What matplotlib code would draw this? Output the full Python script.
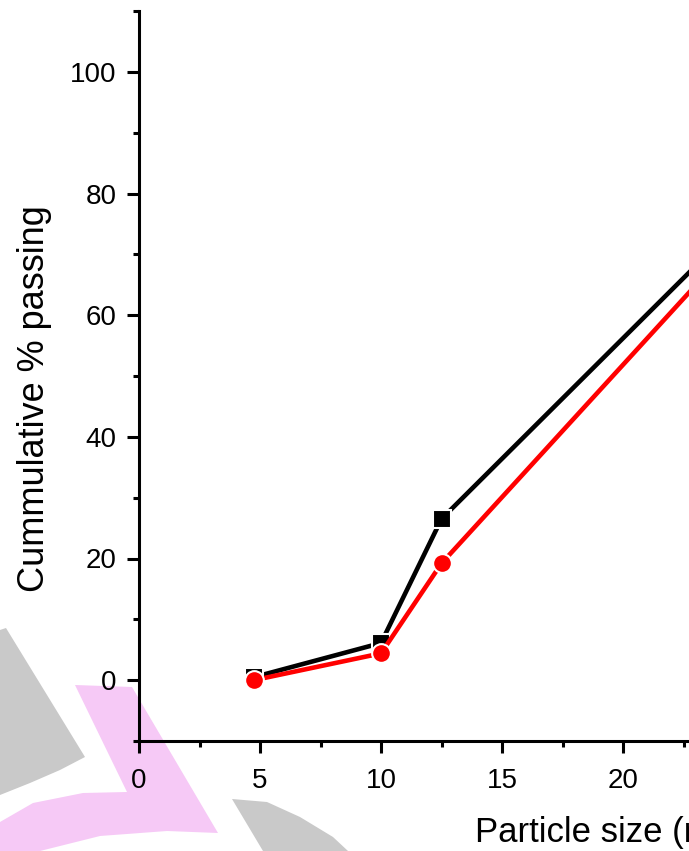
import numpy as np
import matplotlib
matplotlib.use('Agg')
import matplotlib.pyplot as plt
from matplotlib.patches import Polygon
from matplotlib.ticker import MultipleLocator

plt.rcParams['font.family'] = ['Liberation Sans', 'DejaVu Sans']

# sieve data
size_mm = [4.75, 10, 12.5, 25]
passing_a = [0.5, 6.1, 26.5, 76.0]
passing_b = [0.0, 4.4, 19.2, 73.6]

W, H = 689, 851
fig = plt.figure(figsize=(W / 100, H / 100), dpi=100)

# background decoration layer in pixel units
bg = fig.add_axes([0, 0, 1, 1], zorder=0)
bg.set_xlim(0, W)
bg.set_ylim(H, 0)
bg.axis('off')
grey = '#c9c9c9'
pink = '#f6c9f6'
shapes = [
    ([(0, 630), (6, 628), (85, 757), (60, 770), (30, 783), (0, 795)], grey),
    ([(75, 685), (132, 687), (218, 833), (167, 831), (100, 836), (40, 851),
      (0, 851), (0, 822), (33, 803), (83, 793), (127, 792)], pink),
    ([(232, 799), (267, 802), (300, 817), (333, 837), (348, 851), (263, 851)], grey),
]
for pts, c in shapes:
    bg.add_patch(Polygon(pts, closed=True, facecolor=c, edgecolor='none'))

# main axes runs past the right edge of the figure
ax = fig.add_axes([139 / W, 110 / H, 40 * 24.2 / W, 730 / H], zorder=1)
ax.patch.set_alpha(0)
ax.plot(size_mm, passing_a, '-s', color='black', lw=3.3, ms=12.5,
        mec='white', mew=1.5, zorder=3)
ax.plot(size_mm, passing_b, '-o', color='red', lw=3.3, ms=13.5,
        mec='white', mew=1.5, zorder=4)

ax.set_xlim(0, 40)
ax.set_ylim(-10, 110)
ax.xaxis.set_major_locator(MultipleLocator(5))
ax.xaxis.set_minor_locator(MultipleLocator(2.5))
ax.yaxis.set_major_locator(MultipleLocator(20))
ax.yaxis.set_minor_locator(MultipleLocator(10))
ax.set_yticks([0, 20, 40, 60, 80, 100])

for s in ['top', 'right']:
    ax.spines[s].set_visible(False)
for s in ['left', 'bottom']:
    ax.spines[s].set_linewidth(2.2)
ax.tick_params(which='major', direction='out', length=8.5, width=2.2,
               labelsize=20)
ax.tick_params(axis='x', which='major', pad=11)
ax.tick_params(axis='y', which='major', pad=7.5)
ax.tick_params(which='minor', direction='out', length=4.5, width=2.2)

ax.set_xlabel('Particle size (mm)', fontsize=25)
ax.xaxis.set_label_coords((614 - 139) / (40 * 24.2), -0.103)
ax.set_ylabel('Cummulative % passing', fontsize=26)
ax.yaxis.set_label_coords(-0.090, 0.469)

fig.savefig('out.png', dpi=100)
